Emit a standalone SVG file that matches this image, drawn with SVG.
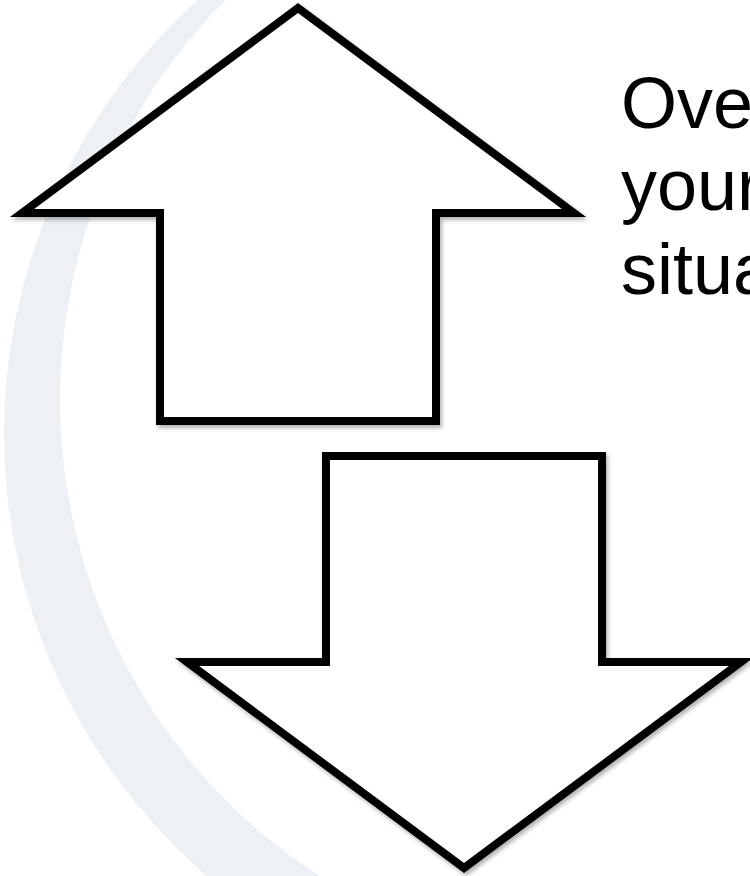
<svg xmlns="http://www.w3.org/2000/svg" width="750" height="876" viewBox="0 0 750 876">
  <style>
    .arrow { fill: #ffffff; stroke: #000000; stroke-width: 8; stroke-linejoin: miter; stroke-miterlimit: 10; filter: url(#shadow); }
    .label { font-family: "Liberation Sans", Arial, sans-serif; font-size: 72px; fill: #000000; }
  </style>
  <defs>
    <filter id="shadow" x="-10%" y="-10%" width="125%" height="125%">
      <feDropShadow dx="2" dy="3" stdDeviation="2" flood-color="#000000" flood-opacity="0.3"/>
    </filter>
  </defs>
  <rect width="750" height="876" fill="#ffffff"/>
  <g id="background-arc">
    <path fill="#EDF1F6" fill-rule="evenodd" d="M 4 434 A 583 583 0 1 0 1170 434 A 583 583 0 1 0 4 434 Z M 60 400 A 566 566 0 1 0 1192 400 A 566 566 0 1 0 60 400 Z"/>
  </g>
  <g id="up-arrow">
    <polygon class="arrow" points="298,8 574,213 436,213 436,421 160,421 160,213 22,213"/>
  </g>
  <g id="down-arrow">
    <polygon class="arrow" points="326,456 602,456 602,662 741,662 464,868 187,662 326,662"/>
  </g>
  <g id="text">
    <text class="label" x="621" y="128">Ove</text>
    <text class="label" x="621" y="210">your</text>
    <text class="label" x="621" y="294">situa</text>
  </g>
  <g id="connectors"/>
</svg>
